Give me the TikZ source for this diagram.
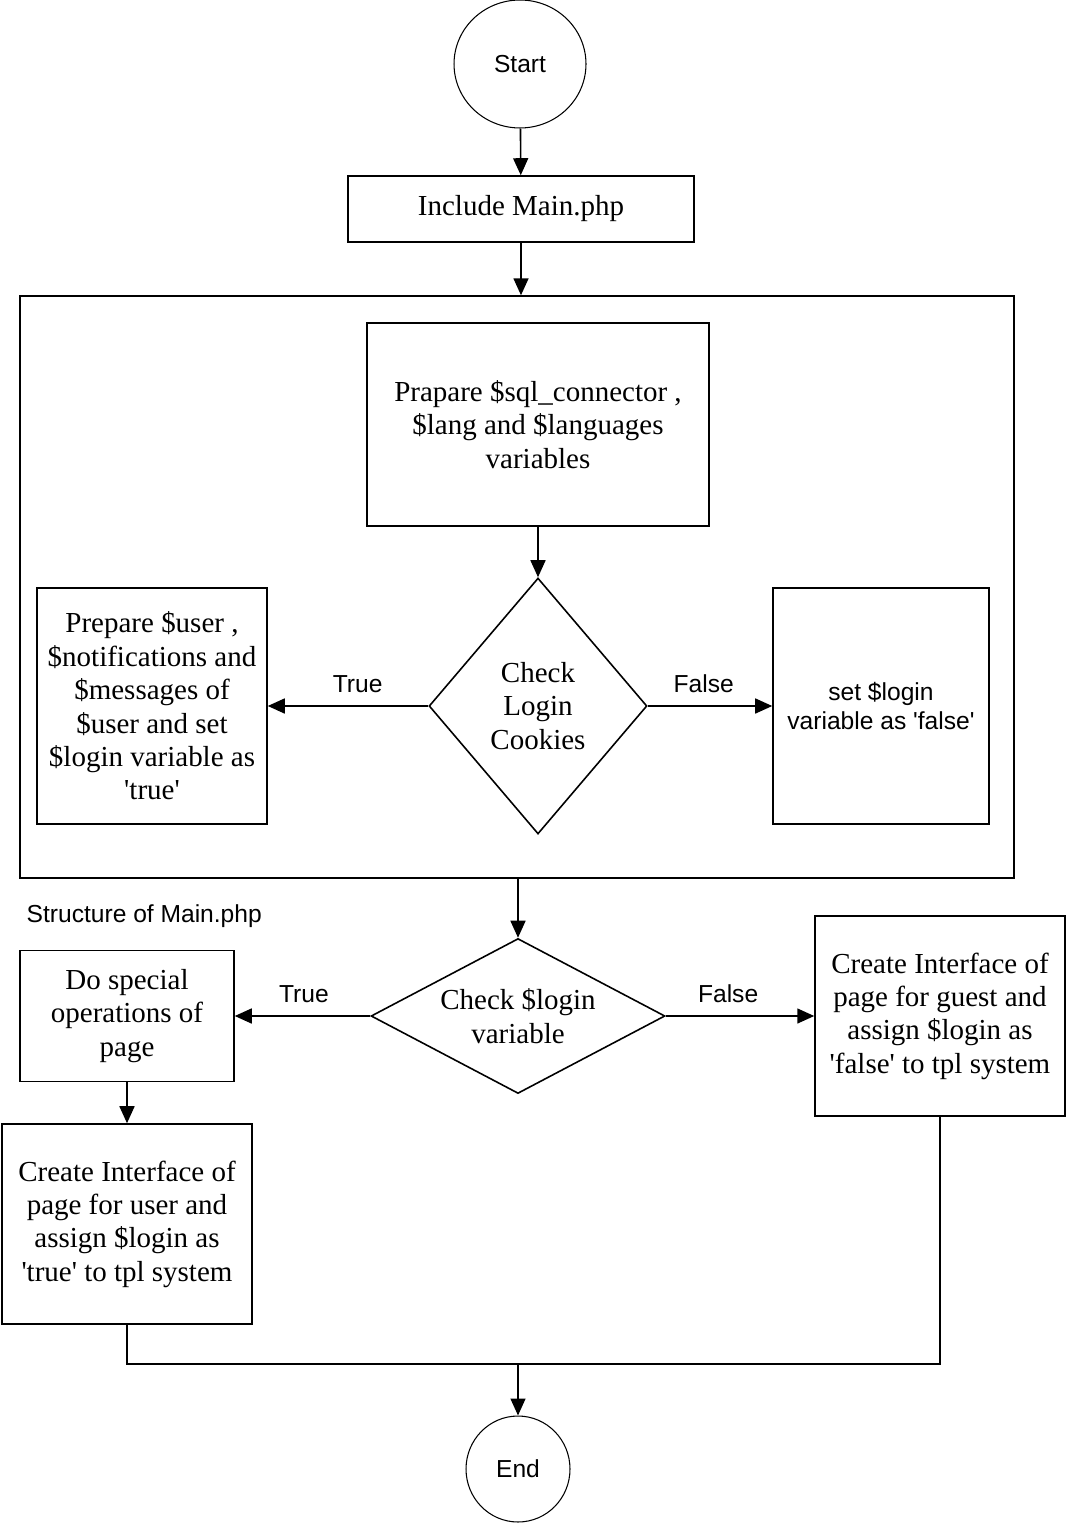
\documentclass[tikz,border=0pt]{standalone}
\usepackage{fontspec}
\setmainfont{Liberation Serif}
\newfontfamily\labelfont{Liberation Sans}
\usetikzlibrary{shapes.geometric,arrows.meta}
\begin{document}
\begin{tikzpicture}[x=0.02cm,y=-0.02cm,line width=0.9pt,
    >={Triangle[length=0.34cm,width=0.3cm]},
    box/.style={draw,rectangle,inner sep=0pt,align=center,font=\fontsize{16.5}{19}\selectfont},
    decide/.style={draw,diamond,inner sep=0pt,align=center,font=\fontsize{16.5}{19}\selectfont},
    terminal/.style={draw,ellipse,inner sep=0pt,line width=0.6pt,font=\labelfont\fontsize{14}{17}\selectfont},
    tag/.style={font=\labelfont\fontsize{14}{17}\selectfont,above=4pt}]
    \useasboundingbox (0,0) rectangle (1066,1523);
    % start
    \node[terminal,minimum width=2.64cm,minimum height=2.56cm] (start) at (520,64) {Start};
    \node[box,minimum width=6.92cm,minimum height=1.32cm] (inc) at (521,209) {Include Main.php};
    % structure of main.php
    \node[draw,rectangle,inner sep=0pt,minimum width=19.88cm,minimum height=11.64cm] (frame) at (517,587) {};
    \node[box,minimum width=6.84cm,minimum height=4.06cm] (prep) at (538,424.5) {Prapare \$sql\_connector ,\\ \$lang and \$languages\\ variables};
    \node[decide,minimum width=4.36cm,minimum height=5.12cm] (cookie) at (538,706) {Check\\ Login\\ Cookies};
    \node[box,minimum width=4.6cm,minimum height=4.72cm] (user) at (152,706) {Prepare \$user ,\\ \$notifications and\\ \$messages of\\ \$user and set\\ \$login variable as\\ \textquotesingle true\textquotesingle};
    \node[box,font=\labelfont\fontsize{14}{17}\selectfont,minimum width=4.32cm,minimum height=4.72cm] (nologin) at (881,706) {set \$login\\ variable as 'false'};
    \node[font=\labelfont\fontsize{14}{17}\selectfont,anchor=west] (caption) at (20,916) {Structure of Main.php};
    % second check
    \node[decide,aspect=2,minimum width=5.88cm,minimum height=3.1cm] (login) at (518,1016) {Check \$login\\ variable};
    \node[box,minimum width=4.28cm,minimum height=2.62cm] (special) at (127,1016) {Do special\\ operations of\\ page};
    \node[box,minimum width=5cm,minimum height=4cm] (useri) at (127,1224) {Create Interface of\\ page for user and\\ assign \$login as\\ \textquotesingle true\textquotesingle{} to tpl system};
    \node[box,minimum width=5cm,minimum height=4cm] (guesti) at (940,1016) {Create Interface of\\ page for guest and\\ assign \$login as\\ \textquotesingle false\textquotesingle{} to tpl system};
    % end
    \node[terminal,minimum width=2.08cm,minimum height=2.12cm] (end) at (518,1469) {End};
    \coordinate (join) at (518,1364);
    % arrows
    \draw[->] (start) -- (inc);
    \draw[->] (inc.south) -- (inc.south |- frame.north);
    \draw[->] (prep) -- (cookie);
    \draw[->] (cookie.west) -- node[tag,pos=0.44]{True} (user.east);
    \draw[->] (cookie.east) -- node[tag,pos=0.45]{False} (nologin.west);
    \draw[->] (login.north |- frame.south) -- (login.north);
    \draw[->] (login.west) -- node[tag,pos=0.49]{True} (special.east);
    \draw[->] (login.east) -- node[tag,pos=0.42]{False} (guesti.west);
    \draw[->] (special) -- (useri);
    \draw (useri.south) |- (join);
    \draw (guesti.south) |- (join);
    \draw[->] (join) -- (end);
\end{tikzpicture}
\end{document}
